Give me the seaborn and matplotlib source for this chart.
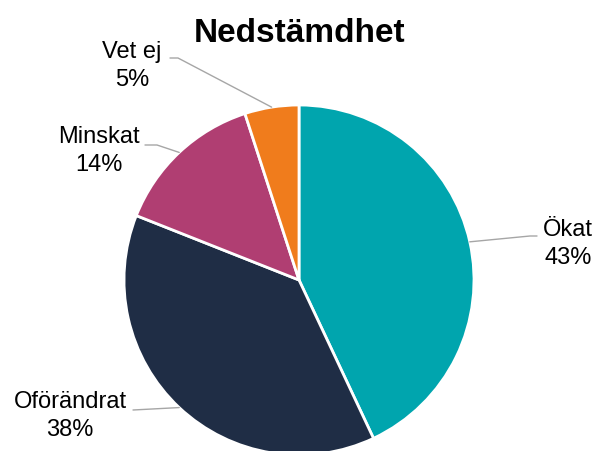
import numpy as np
import matplotlib.pyplot as plt
import seaborn as sns

title = "Nedstämdhet"
categories = ["Ökat", "Oförändrat", "Minskat", "Vet ej"]
shares = [43, 38, 14, 5]
colors = ["#00A5AE", "#1F2D45", "#B03E72", "#F07C1C"]

sns.set_theme(style="white")
plt.rcParams["font.family"] = ["Liberation Sans", "DejaVu Sans"]

W, H = 597, 452
fig = plt.figure(figsize=(W / 100, H / 100), dpi=100)
ax = fig.add_axes([0, 0, 1, 1])

center = (299, H - 281)
radius = 175
wedges, _ = ax.pie(shares, colors=colors, startangle=90, counterclock=False,
                   center=center, radius=radius,
                   wedgeprops=dict(edgecolor="white", linewidth=2))
ax.set_xlim(0, W)
ax.set_ylim(0, H)
ax.set_aspect("equal")
ax.axis("off")

# label placement in image pixels (y down): text centre + leader path after the wedge edge
layout = {
    "Ökat": dict(text=(568, 244), path=[(530, 237), (537, 237)]),
    "Oförändrat": dict(text=(70, 416), path=[(133, 411)]),
    "Minskat": dict(text=(99, 151), path=[(157, 146), (145, 146)]),
    "Vet ej": dict(text=(132, 66), path=[(178, 59), (170, 59)]),
}

for w, name, val in zip(wedges, categories, shares):
    mid = np.deg2rad((w.theta1 + w.theta2) / 2)
    xs = [center[0] + radius * np.cos(mid)]
    ys = [center[1] + radius * np.sin(mid)]
    for px, py in layout[name]["path"]:
        xs.append(px)
        ys.append(H - py)
    ax.plot(xs, ys, color="#A6A6A6", lw=1)
    tx, ty = layout[name]["text"]
    ax.text(tx, H - ty, f"{name}\n{val}%", ha="center", va="center",
            fontsize=17, linespacing=1.3, color="black")

ax.text(300, H - 42, title, ha="center", va="baseline", fontsize=24,
        fontweight="bold", color="black")

fig.savefig("out.png", dpi=100)
